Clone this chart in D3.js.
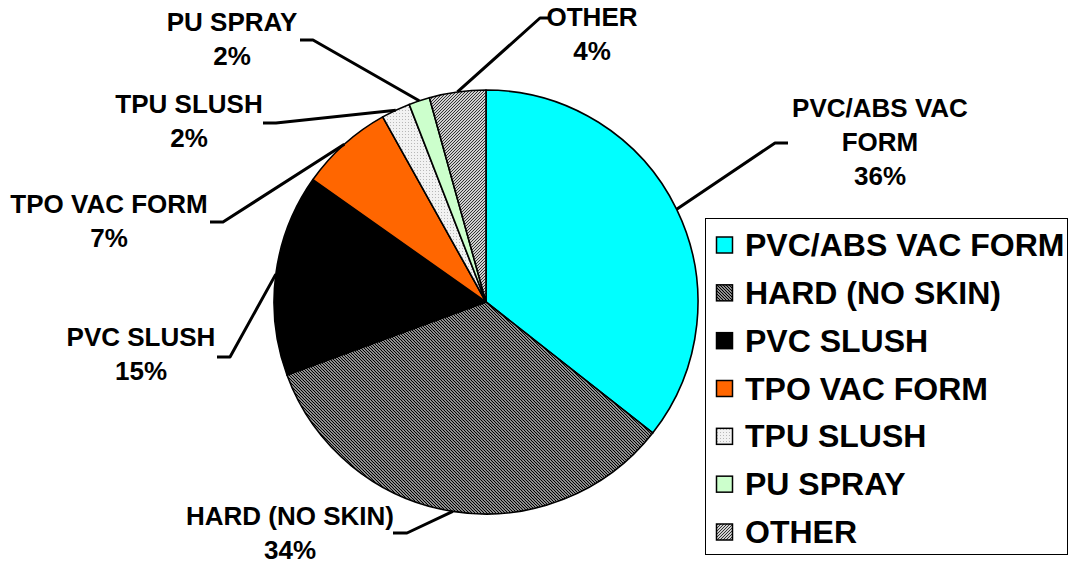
<!DOCTYPE html>
<html>
<head>
<meta charset="utf-8">
<script src="https://cdn.jsdelivr.net/npm/d3@7"></script>
<style>
  html, body { margin: 0; padding: 0; background: #fff; }
  svg { display: block; }
  text { font-family: "Liberation Sans", Arial, sans-serif; font-weight: bold; fill: #000; }
</style>
</head>
<body>
<svg id="chart" width="1074" height="565"></svg>
<script>
// ---- data ----
const categories = ["PVC/ABS VAC FORM", "HARD (NO SKIN)", "PVC SLUSH", "TPO VAC FORM", "TPU SLUSH", "PU SPRAY", "OTHER"];
const values = [35.6, 33.8, 15.4, 7.1, 2.2, 1.6, 4.3];
const labelLines = [["PVC/ABS VAC", "FORM"], ["HARD (NO SKIN)"], ["PVC SLUSH"], ["TPO VAC FORM"], ["TPU SLUSH"], ["PU SPRAY"], ["OTHER"]];
const pctLabels = ["36%", "34%", "15%", "7%", "2%", "2%", "4%"];

// ---- styling / layout ----
const fills = ["#00ffff", "url(#pHard)", "#000000", "#ff6600", "url(#pTpu)", "#ccffcc", "url(#pOther)"];
const cx = 486, cy = 302, R = 212;
// label layout: text centre x, first baseline y, leader elbow and end
const labelLayout = [
  { tx: 880, ty: 117, elbow: [775, 143], end: [788, 143] },
  { tx: 290, ty: 525, elbow: [407, 533], end: [393, 533] },
  { tx: 141, ty: 346, elbow: [230, 357], end: [217, 357] },
  { tx: 109, ty: 213, elbow: [223, 222], end: [210, 222] },
  { tx: 189, ty: 113, elbow: [276, 123], end: [263, 123] },
  { tx: 232, ty: 31,  elbow: [313, 40],  end: [300, 40] },
  { tx: 592, ty: 26,  elbow: [540, 18],  end: [548, 18] }
];
const lineH = 34;

const svg = d3.select("#chart");
const defs = svg.append("defs");

// hatch: HARD
const pH = defs.append("pattern").attr("id", "pHard").attr("patternUnits", "userSpaceOnUse").attr("width", 3).attr("height", 3);
pH.append("rect").attr("width", 3).attr("height", 3).attr("fill", "#fff");
pH.append("path").attr("d", "M0,0L3,3M-1,2L1,4M2,-1L4,1").attr("stroke", "#000").attr("stroke-width", 1.3);
// hatch: OTHER
const pO = defs.append("pattern").attr("id", "pOther").attr("patternUnits", "userSpaceOnUse").attr("width", 3).attr("height", 3);
pO.append("rect").attr("width", 3).attr("height", 3).attr("fill", "#d0d0d0");
pO.append("path").attr("d", "M0,3L3,0M-1,1L1,-1M2,4L4,2").attr("stroke", "#333").attr("stroke-width", 1);
// dots: TPU
const pT = defs.append("pattern").attr("id", "pTpu").attr("patternUnits", "userSpaceOnUse").attr("width", 3).attr("height", 3);
pT.append("rect").attr("width", 3).attr("height", 3).attr("fill", "#f2f2f2");
pT.append("rect").attr("width", 1).attr("height", 1).attr("fill", "#b8b8b8");

const data = categories.map((c, i) => ({ name: c, value: values[i], i }));
const pie = d3.pie().value(d => d.value).sort(null);
const arcs = pie(data);
const arc = d3.arc().innerRadius(0).outerRadius(R);

const g = svg.append("g").attr("transform", `translate(${cx},${cy})`);
g.selectAll("path.slice").data(arcs).join("path")
  .attr("class", "slice")
  .attr("d", arc)
  .attr("fill", d => fills[d.data.i])
  .attr("stroke", "#000")
  .attr("stroke-width", 1.6)
  .attr("stroke-linejoin", "round");

// leader lines + labels
arcs.forEach((a, i) => {
  const mid = (a.startAngle + a.endAngle) / 2;
  const sx = cx + R * Math.sin(mid), sy = cy - R * Math.cos(mid);
  const L = labelLayout[i];
  svg.append("polyline")
    .attr("points", [[sx, sy], L.elbow, L.end].map(p => p.join(",")).join(" "))
    .attr("fill", "none").attr("stroke", "#000").attr("stroke-width", 3)
    .attr("stroke-linejoin", "round");
  const lines = labelLines[i].concat([pctLabels[i]]);
  lines.forEach((t, k) => {
    svg.append("text").attr("x", L.tx).attr("y", L.ty + k * lineH)
      .attr("text-anchor", "middle").attr("font-size", 26).text(t);
  });
});

// legend
const leg = svg.append("g");
leg.append("rect").attr("x", 705.5).attr("y", 218.5).attr("width", 362).attr("height", 336)
  .attr("fill", "#fff").attr("stroke", "#000").attr("stroke-width", 1);
const ly = d3.scalePoint().domain(categories).range([245, 532]);
categories.forEach((c, i) => {
  const y = ly(c);
  leg.append("rect").attr("x", 716.5).attr("y", y - 8).attr("width", 16).attr("height", 16)
    .attr("fill", fills[i]).attr("stroke", "#000").attr("stroke-width", 1.5);
  leg.append("text").attr("x", 745).attr("y", y + 11).attr("font-size", 32).text(c);
});
</script>
</body>
</html>
